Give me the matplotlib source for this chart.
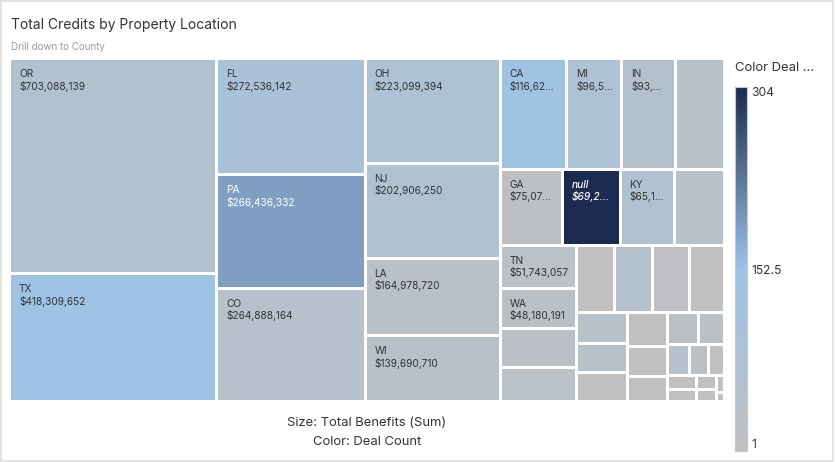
import matplotlib
matplotlib.use('Agg')
import matplotlib.pyplot as plt
from matplotlib.patches import Rectangle
from matplotlib.colors import LinearSegmentedColormap, Normalize
from matplotlib.font_manager import FontProperties
import matplotlib as mpl

plt.rcParams['font.family'] = ['Inter', 'DejaVu Sans']

# states, sorted by total benefits (descending)
states = ['OR', 'TX', 'FL', 'PA', 'CO', 'OH', 'NJ', 'LA', 'WI', 'CA', 'MI', 'IN', 'NY',
          'GA', 'null', 'KY', 'MA', 'TN', 'WA', 'MN', 'IL', 'AZ', 'NC', 'MO', 'VA',
          'MD', 'SC', 'NM', 'AL', 'CT', 'UT', 'NV', 'IA', 'KS', 'OK', 'AR', 'MS',
          'NE', 'ID', 'ME', 'NH', 'VT']
benefits = [703088139, 418309652, 272536142, 266436332, 264888164, 223099394, 202906250,
            164978720, 139690710, 116624318, 96532407, 93806552, 85500000,
            75072236, 69245810, 65127943, 60500000, 51743057, 48180191, 46500000,
            41500000, 41000000, 40500000, 38500000, 37500000,
            25000000, 23400000, 23200000, 21200000, 19300000, 15800000, 15600000,
            12700000, 10800000, 9300000, 7800000, 6400000, 5500000, 4400000,
            3800000, 2100000, 1200000]
deal_count = [62, 150, 95, 188, 45, 85, 72, 32, 40, 140, 85, 55, 38,
              14, 304, 68, 40, 28, 30, 25, 28, 10, 50, 12, 10,
              40, 38, 4, 3, 3, 3, 20, 20, 45, 25, 3, 3, 3, 3, 3, 4, 2]
labeled = ['OR', 'TX', 'FL', 'PA', 'CO', 'OH', 'NJ', 'LA', 'WI', 'CA', 'MI', 'IN',
           'GA', 'null', 'KY', 'TN', 'WA']
color_ticks = [1, 152.5, 304]

PHI = (1 + 5 ** 0.5) / 2


def squarify(values, x0, y0, x1, y1, ratio=PHI):
    # d3-style squarified treemap (y grows downwards)
    rects = []
    total = float(sum(values))
    i0, n = 0, len(values)
    while i0 < n:
        dx, dy = x1 - x0, y1 - y0
        s = values[i0]
        i1 = i0 + 1
        vmin = vmax = s
        alpha = max(dy / dx, dx / dy) / (total * ratio)
        beta = s * s * alpha
        best = max(vmax / beta, beta / vmin)
        while i1 < n:
            v = values[i1]
            s2 = s + v
            mn, mx = min(vmin, v), max(vmax, v)
            beta = s2 * s2 * alpha
            r = max(mx / beta, beta / mn)
            if r > best:
                break
            s, vmin, vmax, best = s2, mn, mx, r
            i1 += 1
        if dx < dy:
            h = dy * s / total if i1 < n else dy
            x = x0
            for v in values[i0:i1]:
                w = dx * v / s
                rects.append((x, y0, w, h))
                x += w
            y0 += h
        else:
            w = dx * s / total if i1 < n else dx
            y = y0
            for v in values[i0:i1]:
                h = dy * v / s
                rects.append((x0, y, w, h))
                y += h
            x0 += w
        total -= s
        i0 = i1
    return rects


W, H = 835, 462
fig = plt.figure(figsize=(W / 100, H / 100), dpi=100)
ax = fig.add_axes([0, 0, 1, 1])
ax.set_xlim(0, W)
ax.set_ylim(H, 0)
ax.axis('off')

# card border
ax.add_patch(Rectangle((1, 1), W - 3, H - 2, fill=False, edgecolor='#e3e3e3', lw=1.6))

ax.text(11, 25, 'Total Credits by Property Location', fontsize=10.0, color='#333333',
        va='center', ha='left')
ax.text(11, 47, 'Drill down to County', fontsize=7.0, color='#9a9a9a', va='center', ha='left')

cmap = LinearSegmentedColormap.from_list('deal', [(0, '#c0c0c0'), (0.5, '#9dc3e6'), (1, '#1b2a4f')])
norm = Normalize(1, 304)

pad = 1.5
rects = squarify(benefits, 11 - pad, 60 - pad, 723 + pad, 400 + pad)

renderer = fig.canvas.get_renderer()
lab_fp = FontProperties(family=['Inter', 'DejaVu Sans'], size=7.3)


def text_w(s, fp):
    w, _, _ = renderer.get_text_width_height_descent(s, fp, ismath=False)
    return w


def fit(s, avail, fp):
    if text_w(s, fp) <= avail:
        return s
    for k in range(len(s) - 1, 0, -1):
        t = s[:k] + '...'
        if text_w(t, fp) <= avail:
            return t
    return ''


for name, val, cnt, (x, y, w, h) in zip(states, benefits, deal_count, rects):
    ax.add_patch(Rectangle((x + pad, y + pad), w - 2 * pad, h - 2 * pad,
                           facecolor=cmap(norm(cnt)), edgecolor='none'))
    if name in labeled:
        dark = cnt > 170
        tc = 'white' if dark else '#333333'
        fp = lab_fp.copy()
        if name == 'null':
            fp.set_style('italic')
            fp.set_weight('medium')
        avail = w - 2 * pad - 14
        ax.text(x + pad + 8, y + pad + 14, fit(name, avail, fp), fontproperties=fp,
                color=tc, va='center', ha='left')
        ax.text(x + pad + 8, y + pad + 26, fit('${:,}'.format(val), avail, fp),
                fontproperties=fp, color=tc, va='center', ha='left')

ax.text(367, 423, 'Size: Total Benefits (Sum)', fontsize=9.4, color='#333333',
        ha='center', va='center')
ax.text(367, 442, 'Color: Deal Count', fontsize=9.4, color='#333333',
        ha='center', va='center')

# colour legend
ax.text(735, 68, 'Color Deal ...', fontsize=9.4, color='#333333', ha='left', va='center')
cax = fig.add_axes([735 / W, 1 - 451 / H, 12 / W, (451 - 87) / H])
cb = mpl.colorbar.ColorbarBase(cax, cmap=cmap, norm=norm, ticks=color_ticks)
cb.outline.set_edgecolor('#c8c8c8')
cb.outline.set_linewidth(0.8)
cax.tick_params(length=0, pad=3, labelsize=8.7, labelcolor='#333333')
cax.set_yticklabels(['1', '152.5', '304'])
labels = cax.get_yticklabels()
labels[0].set_va('bottom')
labels[2].set_va('top')

fig.savefig('out.png', dpi=100)
